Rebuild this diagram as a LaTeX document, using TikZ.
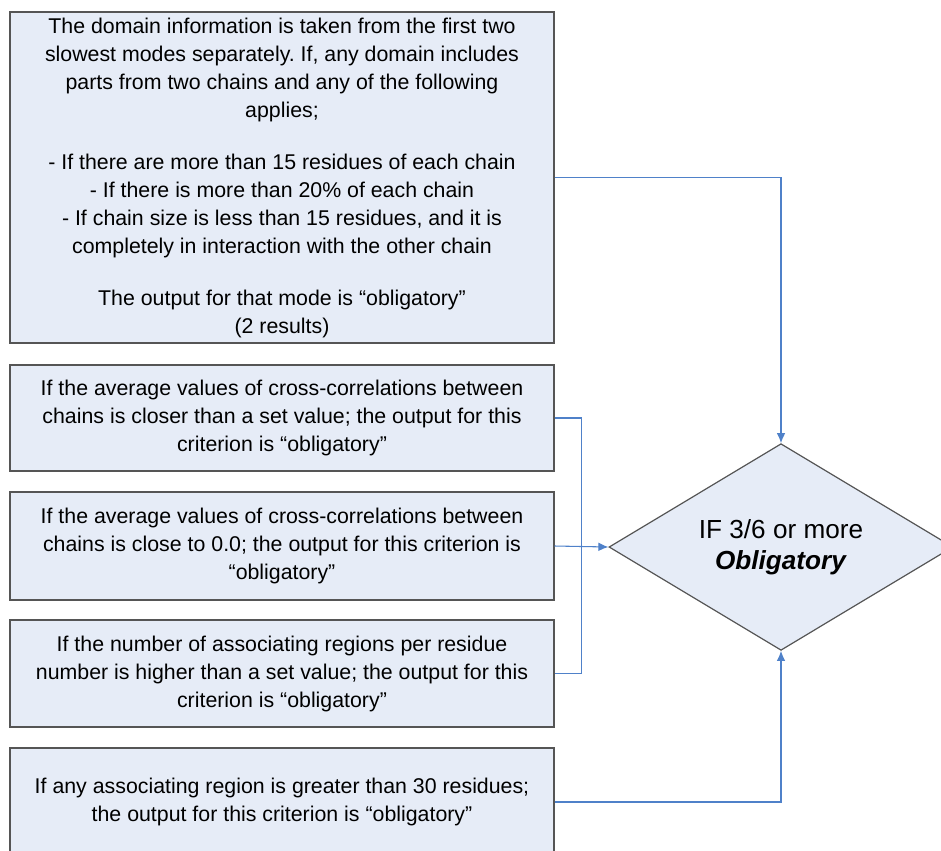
\documentclass[tikz,border=0pt]{standalone}
\usepackage{fontspec}
\setmainfont{Liberation Sans}
\usepackage{tikz}
\usetikzlibrary{shapes,arrows,arrows.meta,positioning}
\definecolor{boxfill}{RGB}{230,236,247}
\definecolor{boxline}{RGB}{85,85,85}
\definecolor{linkblue}{RGB}{79,129,201}
\frenchspacing

\begin{document}
\begin{tikzpicture}[x=0.75pt,y=-0.75pt,
  kriterium/.style={draw=boxline,line width=1.1pt,fill=boxfill,align=center,
    minimum width=408pt,inner sep=2pt,font=\fontsize{16}{21}\selectfont},
  entscheid/.style={diamond,draw=boxline,line width=0.9pt,fill=boxfill,align=center,
    aspect=1.66,inner sep=0pt,minimum width=258pt,minimum height=155pt,
    font=\fontsize{19.6}{23.3}\selectfont},
  link/.style={draw=linkblue,line width=0.8pt},
  pfeil/.style={link,-{Latex[length=7.5pt,width=6.5pt]}}]
\useasboundingbox (0,0) rectangle (941,850);
%Kriterien
\node[kriterium,minimum height=248pt] (domain) at (282,177.5) {The domain information is taken from the first two\\
slowest modes separately. If, any domain includes\\
parts from two chains and any of the following\\
applies;\\[18pt]
- If there are more than 15 residues of each chain\\
- If there is more than 20\% of each chain\\
- If chain size is less than 15 residues, and it is\\
completely in interaction with the other chain\\[18pt]
The output for that mode is “obligatory”\\
(2 results)};
\node[kriterium,minimum height=79.5pt] (closer) at (282,418) {If the average values of cross-correlations between\\
chains is closer than a set value; the output for this\\
criterion is “obligatory”};
\node[kriterium,minimum height=81pt] (zero) at (282,546) {If the average values of cross-correlations between\\
chains is close to 0.0; the output for this criterion is\\
“obligatory”};
\node[kriterium,minimum height=80.25pt] (regions) at (282,673.5) {If the number of associating regions per residue\\
number is higher than a set value; the output for this\\
criterion is “obligatory”};
\node[kriterium,minimum height=81pt] (greater) at (282,802) {If any associating region is greater than 30 residues;\\
the output for this criterion is “obligatory”};
%Entscheidung
\node[entscheid] (decide) at (781,547) {IF 3/6 or more\\\textbf{\textit{Obligatory}}};
%Verbindungen
\draw[pfeil] (domain.east) -| (decide.north);
\draw[link] (closer.east) -- ++(27,0) |- (regions.east);
\draw[pfeil] (zero.east) -- (decide.west);
\draw[pfeil] (greater.east) -| (decide.south);
\end{tikzpicture}
\end{document}
